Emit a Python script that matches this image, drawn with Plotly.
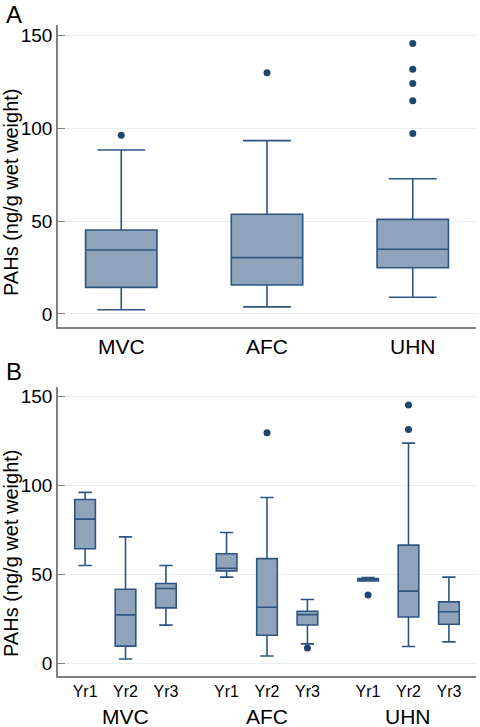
import plotly.graph_objects as go

sites = ["MVC", "AFC", "UHN"]
years = ["Yr1", "Yr2", "Yr3"]

# Panel A: by site
a_q1 = [14.3, 15.6, 24.9]
a_med = [34.4, 30.3, 34.8]
a_q3 = [45.2, 53.6, 50.9]
a_lo = [2.3, 3.8, 9.0]
a_hi = [88.2, 93.2, 72.7]
a_out = [[96.1], [129.7], [145.5, 131.6, 124.0, 114.7, 97.1]]

# Panel B: by site and year (MVC Yr1..Yr3, AFC Yr1..Yr3, UHN Yr1..Yr3)
b_q1 = [64.3, 9.6, 31.1, 51.9, 15.7, 21.5, 46.3, 26.0, 21.9]
b_med = [81.0, 27.2, 42.0, 53.4, 31.5, 27.3, 47.0, 40.5, 28.9]
b_q3 = [92.0, 41.6, 44.8, 61.5, 58.8, 29.2, 47.6, 66.4, 34.5]
b_lo = [54.9, 2.4, 21.4, 48.4, 4.1, 10.9, 46.3, 9.4, 12.0]
b_hi = [96.0, 71.0, 54.9, 73.5, 93.1, 35.8, 48.2, 123.7, 48.4]
b_out = [[], [], [], [], [129.5], [8.6], [38.4], [145.1, 131.4], []]

y_ticks = [0, 50, 100, 150]

FILL = "#8fa4ba"
LINE = "#2d5582"
DOT = "#1f4571"
AXIS = "#808080"
GRID = "#e5eef1"
FONT = "Liberation Sans, Arial, sans-serif"

W, H = 480, 727

pos_a = list(range(len(sites)))
pos_b = [g * 3.5 + j for g in range(len(sites)) for j in range(len(years))]
lab_b = [y for _ in sites for y in years]

fig = go.Figure()

fig.add_trace(go.Box(
    x=pos_a, q1=a_q1, median=a_med, q3=a_q3, lowerfence=a_lo, upperfence=a_hi,
    width=0.49, whiskerwidth=0.67, fillcolor=FILL, line=dict(color=LINE, width=1.6),
    boxpoints=False, xaxis="x", yaxis="y", showlegend=False, hoverinfo="skip"))
fig.add_trace(go.Scatter(
    x=[pos_a[i] for i, l in enumerate(a_out) for _ in l],
    y=[v for l in a_out for v in l],
    mode="markers", marker=dict(color=DOT, size=7), xaxis="x", yaxis="y",
    showlegend=False, hoverinfo="skip"))

fig.add_trace(go.Box(
    x=pos_b, q1=b_q1, median=b_med, q3=b_q3, lowerfence=b_lo, upperfence=b_hi,
    width=0.51, whiskerwidth=0.65, fillcolor=FILL, line=dict(color=LINE, width=1.6),
    boxpoints=False, xaxis="x2", yaxis="y2", showlegend=False, hoverinfo="skip"))
fig.add_trace(go.Scatter(
    x=[pos_b[i] for i, l in enumerate(b_out) for _ in l],
    y=[v for l in b_out for v in l],
    mode="markers", marker=dict(color=DOT, size=7), xaxis="x2", yaxis="y2",
    showlegend=False, hoverinfo="skip"))

xdom = [58 / W, 476 / W]
ydom_a = [1 - 327 / H, 1 - 25 / H]
ydom_b = [1 - 675.7 / H, 1 - 386.7 / H]

yax = dict(range=[-7, 155.4], tickvals=y_ticks, ticks="inside", ticklen=7,
           tickcolor=AXIS, tickwidth=1, showline=True, linecolor=AXIS, linewidth=1.5,
           showgrid=True, gridcolor=GRID, gridwidth=1, zeroline=False,
           tickfont=dict(size=19, color="#000"))

fig.update_layout(
    width=W, height=H, margin=dict(l=0, r=0, t=0, b=0),
    paper_bgcolor="white", plot_bgcolor="white",
    font=dict(family=FONT, color="#000"),
    xaxis=dict(domain=xdom, range=[-0.434, 2.434], tickvals=pos_a, ticktext=sites,
               showline=True, linecolor=AXIS, linewidth=2, ticks="", showgrid=False,
               zeroline=False, anchor="y", tickfont=dict(size=21, color="#000")),
    yaxis=dict(domain=ydom_a, anchor="x", **yax),
    xaxis2=dict(domain=xdom, range=[-0.67, 9.67], tickvals=pos_b, ticktext=lab_b,
                showline=True, linecolor=AXIS, linewidth=2, ticks="", showgrid=False,
                zeroline=False, anchor="y2", tickfont=dict(size=16, color="#000")),
    yaxis2=dict(domain=ydom_b, anchor="x2", **yax),
)

ann = [
    dict(text="A", x=4 / W, y=1 - 15 / H, xref="paper", yref="paper",
         xanchor="left", yanchor="middle", showarrow=False, font=dict(size=24)),
    dict(text="B", x=4 / W, y=1 - 371 / H, xref="paper", yref="paper",
         xanchor="left", yanchor="middle", showarrow=False, font=dict(size=24)),
    dict(text="PAHs (ng/g wet weight)", x=11 / W, y=1 - 192 / H, xref="paper", yref="paper",
         textangle=-90, xanchor="center", yanchor="middle", showarrow=False, font=dict(size=20)),
    dict(text="PAHs (ng/g wet weight)", x=11 / W, y=1 - 553 / H, xref="paper", yref="paper",
         textangle=-90, xanchor="center", yanchor="middle", showarrow=False, font=dict(size=20)),
]
for g, s in enumerate(sites):
    ann.append(dict(text=s, x=pos_b[g * 3 + 1], y=1 - 716 / H, xref="x2", yref="paper",
                    xanchor="center", yanchor="middle", showarrow=False, font=dict(size=21)))
fig.update_layout(annotations=ann)

fig.write_html("out.html", config={"displayModeBar": False},
               post_script="document.body.style.margin='0';document.body.style.overflow='hidden';")
